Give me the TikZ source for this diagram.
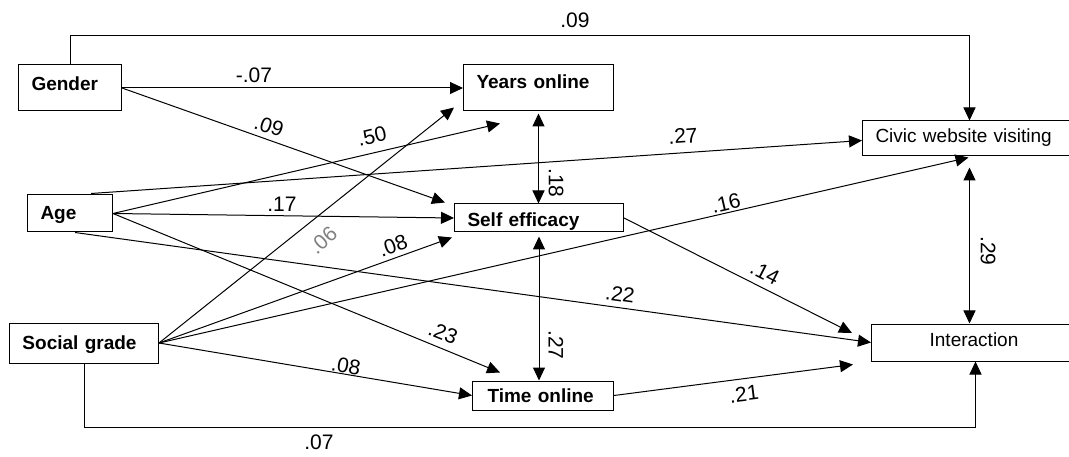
\documentclass[tikz,border=0pt]{standalone}
\usepackage{fontspec}
\setmainfont[Ligatures=NoCommon]{Liberation Sans}
\usetikzlibrary{arrows.meta,calc}

\tikzset{
  box/.style={draw, line width=1pt, inner xsep=13pt, inner ysep=0pt,
              align=left, anchor=base west},
  boldlbl/.style={font=\fontsize{19}{22}\selectfont\bfseries},
  plainlbl/.style={font=\fontsize{19}{22}\selectfont},
  link/.style={line width=1pt, -{Triangle[length=13pt,width=12pt]}},
  both/.style={line width=1pt,
               {Triangle[length=13pt,width=12pt]}-{Triangle[length=13pt,width=12pt]}},
  coef/.style={font=\fontsize{21}{23}\selectfont, inner sep=0pt},
}

\begin{document}
\begin{tikzpicture}[x=1pt,y=-1pt]
\useasboundingbox (0,0) rectangle (1069,457);

% variables (x = left edge, y = text baseline)
\node[box,boldlbl,text width=77pt,text height=26pt,text depth=20pt] (g)   at (18,91)  {Gender};
\node[box,boldlbl,text width=124pt,text height=24pt,text depth=22pt] (yo) at (463,89) {Years online};
\node[box,plainlbl,text width=188pt,text height=22pt,text depth=13pt] (civ) at (862,143) {Civic website visiting};
\node[box,boldlbl,text width=59pt,text height=25pt,text depth=12pt] (age) at (27,220) {Age};
\node[box,boldlbl,text width=143pt,text height=23pt,text depth=5pt] (se) at (454,227) {Self efficacy};
\node[box,boldlbl,text width=123pt,text height=26pt,text depth=14pt] (sg) at (9,349) {Social grade};
\node[box,boldlbl,inner xsep=15pt,text width=111pt,text height=21pt,text depth=8pt] (to) at (472,402) {Time online};
\node[box,plainlbl,align=center,text width=179pt,text height=22pt,text depth=15pt] (int) at (871,346) {Interaction};

% helper levels for the elbow connectors
\coordinate (topY) at (0,36);
\coordinate (botY) at (0,427);

% gender
\draw[link] (g.north) -- (g.north |- topY) -| (civ.north);
\draw[link] (g.east) -- (yo.west);
\draw[link] (g.east) -- ($(se.north west)+(-9,-1)$);

% age
\draw[link] (age.east) -- ($(yo.south west)+(37,12)$);
\draw[link] ($(age.north east)+(-22,-1)$) -- ($(civ.west)+(0,2)$);
\draw[link] (age.east) -- (se.west);
\draw[link] (age.east) -- ($(to.north west)+(28,-8)$);
\draw[link] ($(age.south)+(5,0)$) -- (int.west);

% social grade
\draw[link] (sg.east) -- ($(yo.south west)+(-9,-4)$);
\draw[link] (sg.east) -- ($(se.south west)+(-2,5)$);
\draw[link] (sg.east) -- ($(civ.south)+(-1,1)$);
\draw[link] (sg.east) -- (to.west);
\draw[link] (sg.south) -- (sg.south |- botY) -| ($(int.south)+(1.5,0)$);

% mediators and outcomes
\draw[both] ($(yo.south)+(0,2)$) -- (yo.south |- se.north);
\draw[both] ($(se.south)+(0,4)$) -- (se.south |- to.north);
\draw[both] ($(civ.south)+(0,11)$) -- (civ.south |- int.north);
\draw[link] (se.east) -- ($(int.west)+(-19,-9.5)$);
\draw[link] (to.east) -- ($(int.south west)+(-18,3)$);

% path coefficients
\node[coef] (c1)  at (575,20)  {.09};
\node[coef] (c2)  at (254,75)  {-.07};
\node[coef,rotate=-18] (c3) at (269,126) {.09};
\node[coef,rotate=13] (c4)  at (372,136) {.50};
\node[coef,rotate=4] (c5)   at (683,136) {.27};
\node[coef] (c6)  at (282,204) {.17};
\node[coef,rotate=42,text=gray] (c7) at (323,240) {.06};
\node[coef,rotate=20] (c8)  at (393,246) {.08};
\node[coef,rotate=13] (c9)  at (726,203) {.16};
\node[coef,rotate=-8] (c10) at (620,294) {.22};
\node[coef,rotate=-27] (c11) at (765,273) {.14};
\node[coef,rotate=-22] (c12) at (443,333) {.23};
\node[coef,rotate=-10] (c13) at (346,366) {.08};
\node[coef,rotate=7] (c14)  at (744,394) {.21};
\node[coef] (c15) at (319,442) {.07};
\node[coef,rotate=-90] (c16) at (556,183) {.18};
\node[coef,rotate=-90] (c17) at (556,345) {.27};
\node[coef,rotate=-90] (c18) at (988,251) {.29};
\end{tikzpicture}
\end{document}
